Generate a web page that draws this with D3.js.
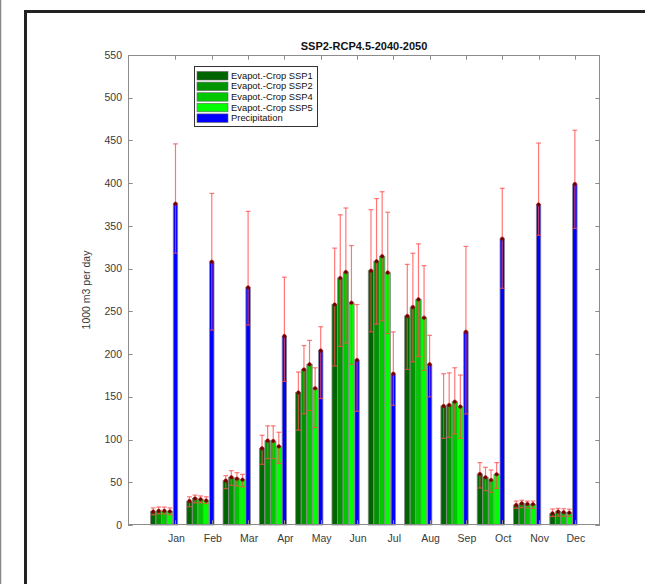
<!DOCTYPE html>
<html><head><meta charset="utf-8">
<script src="https://cdn.jsdelivr.net/npm/d3@7"></script>
<style>body{margin:0;background:#fff}svg{display:block}</style>
</head><body>
<script>
const months = ["Jan","Feb","Mar","Apr","May","Jun","Jul","Aug","Sep","Oct","Nov","Dec"];
const seriesNames = ["Evapot.-Crop SSP1","Evapot.-Crop SSP2","Evapot.-Crop SSP4","Evapot.-Crop SSP5","Precipitation"];
const seriesColors = ["#006400","#009400","#00c800","#00ff00","#0000ff"];
const yTicks = [0,50,100,150,200,250,300,350,400,450,500,550];

const ssp1 = [15.6,28,51.9,89.7,155,258,297.6,244.6,139.3,59.7,23.4,13.6];
const ssp2 = [16.5,31,55.8,98.7,182,289,308.6,255,140.4,55.8,25.3,15.6];
const ssp4 = [16.5,30,54.2,98.3,188,296,314.4,264,144.3,52.7,24.6,14.8];
const ssp5 = [15.8,28.5,53,92,160,260,295.3,242.6,138.5,59.3,24.2,14.4];
const precip = [376,308,278,221,204,193,177,188,226,335,375,399];

const ssp1Hi = [20,33,57.7,105,179,324,369,305,177,73,28,18.7];
const ssp2Hi = [21,35,63.6,116,210,363,382,318,178,67.5,29,19.5];
const ssp4Hi = [21,34,61.2,116,216,371,390,329,184,64.4,28,19];
const ssp5Hi = [20,33,59.3,108.5,184,327,366,303.5,175.5,73,28,18.5];
const precipHi = [446,388,367,290,232,258,226,222,326,394,447,462];

const ssp1Lo = [12,21.4,42.5,71,111,186,226,182,101.4,43.3,19.5,9.8];
const ssp2Lo = [13,26,46.4,77.6,130,209,235,191,102.6,40.2,20.5,10.5];
const ssp4Lo = [13,26,45.6,77.6,134,213,239,197,106.5,38.2,20,10.2];
const ssp5Lo = [12,25,44.8,72,114,188,224,181,101.4,42.9,19.5,10];
const precipLo = [318,228,234,168,148,133,140,150,130,277,339,347];

const vals = [ssp1,ssp2,ssp4,ssp5,precip];
const his = [ssp1Hi,ssp2Hi,ssp4Hi,ssp5Hi,precipHi];
const los = [ssp1Lo,ssp2Lo,ssp4Lo,ssp5Lo,precipLo];

const W = 645, H = 584;
const m = {left:128, right:600, top:55, bottom:525};
const svg = d3.select("body").append("svg").attr("width",W).attr("height",H);

// outer frame
svg.append("line").attr("x1",0.5).attr("x2",0.5).attr("y1",0).attr("y2",H).attr("stroke","#888").attr("stroke-width",1.5);
svg.append("path").attr("d",`M25.5,${H} L25.5,11.5 L${W},11.5`).attr("fill","none").attr("stroke","#222").attr("stroke-width",3);

const x = d3.scaleLinear().domain([0,13]).range([m.left,m.right]);
const y = d3.scaleLinear().domain([0,550]).range([m.bottom,m.top]);

const n = 5, gw = n/(n+1.5), slot = gw/n;
const offset = i => -gw/2 + (2*i+1)*slot/2;

const g = svg.append("g");
vals.forEach((arr,i)=>{
  const bw = i<4 ? slot*0.97 : slot*0.8;
  g.selectAll(null).data(arr).enter().append("rect")
    .attr("x",(d,k)=>x(k+1+offset(i)) - (x(bw)-x(0))/2)
    .attr("width",x(bw)-x(0))
    .attr("y",d=>y(d)).attr("height",d=>y(0)-y(d))
    .attr("fill",seriesColors[i]).attr("stroke","#8a8a8a").attr("stroke-width",0.8);
});
const capW = 2.4;
vals.forEach((arr,i)=>{
  arr.forEach((v,k)=>{
    const cx = x(k+1+offset(i));
    const eg = g.append("g").attr("stroke","#ff4a4a").attr("stroke-opacity",0.75).attr("stroke-width",1.2);
    eg.append("line").attr("x1",cx).attr("x2",cx).attr("y1",y(los[i][k])).attr("y2",y(his[i][k]));
    eg.append("line").attr("x1",cx-capW).attr("x2",cx+capW).attr("y1",y(los[i][k])).attr("y2",y(los[i][k]));
    eg.append("line").attr("x1",cx-capW).attr("x2",cx+capW).attr("y1",y(his[i][k])).attr("y2",y(his[i][k]));
    g.append("circle").attr("cx",cx).attr("cy",y(v)).attr("r",1.8).attr("fill","#6a0000").attr("stroke","#b00000").attr("stroke-width",0.5);
  });
});

const axCol = "#8c8c8c";
svg.append("rect").attr("x",m.left+0.5).attr("y",m.top+0.5).attr("width",m.right-m.left-1).attr("height",m.bottom-m.top-1)
  .attr("fill","none").attr("stroke",axCol).attr("stroke-width",1);
const tl = 4.7;
const xt = months.map((mo,k)=>k+1+offset(4));
const ax = svg.append("g").attr("stroke",axCol).attr("stroke-width",1);
xt.forEach(t=>{
  const px = Math.round(x(t))+0.5;
  ax.append("line").attr("x1",px).attr("x2",px).attr("y1",m.bottom).attr("y2",m.bottom-tl);
  ax.append("line").attr("x1",px).attr("x2",px).attr("y1",m.top).attr("y2",m.top+tl);
});
yTicks.forEach(t=>{
  const py = Math.round(y(t))+0.5;
  ax.append("line").attr("x1",m.left).attr("x2",m.left+tl).attr("y1",py).attr("y2",py);
  ax.append("line").attr("x1",m.right).attr("x2",m.right-tl).attr("y1",py).attr("y2",py);
});
const font = "Liberation Sans, Arial, sans-serif";
svg.append("g").selectAll("text").data(yTicks).enter().append("text")
  .attr("x",m.left-6).attr("y",d=>y(d)).attr("dy","0.35em").attr("text-anchor","end")
  .attr("font-family",font).attr("font-size",10.5).attr("fill","#3a3a3a").text(d=>d);
svg.append("g").selectAll("text").data(months).enter().append("text")
  .attr("x",(d,k)=>x(xt[k])+1).attr("y",m.bottom+17).attr("text-anchor","middle")
  .attr("font-family",font).attr("font-size",10.5).attr("fill","#3a3a3a").text(d=>d);
svg.append("text").attr("transform",`translate(90,${(m.top+m.bottom)/2}) rotate(-90)`)
  .attr("text-anchor","middle").attr("font-family",font).attr("font-size",10.5).attr("fill","#3a3a3a").text("1000 m3 per day");
svg.append("text").attr("x",(m.left+m.right)/2).attr("y",50).attr("text-anchor","middle")
  .attr("font-family",font).attr("font-size",11).attr("font-weight","bold").attr("fill","#111").text("SSP2-RCP4.5-2040-2050");

const lg = svg.append("g");
lg.append("rect").attr("x",194.5).attr("y",66.5).attr("width",123).attr("height",60).attr("fill","#fff").attr("stroke","#333").attr("stroke-width",1);
seriesNames.forEach((s,i)=>{
  const cy = 75.5 + i*10.6;
  lg.append("rect").attr("x",197).attr("y",cy-4).attr("width",31).attr("height",8.5).attr("fill",seriesColors[i]).attr("stroke","#666").attr("stroke-width",0.6);
  lg.append("text").attr("x",231).attr("y",cy).attr("dy","0.35em").attr("font-family",font).attr("font-size",9.4).attr("fill","#111").text(s);
});
</script>
</body></html>
